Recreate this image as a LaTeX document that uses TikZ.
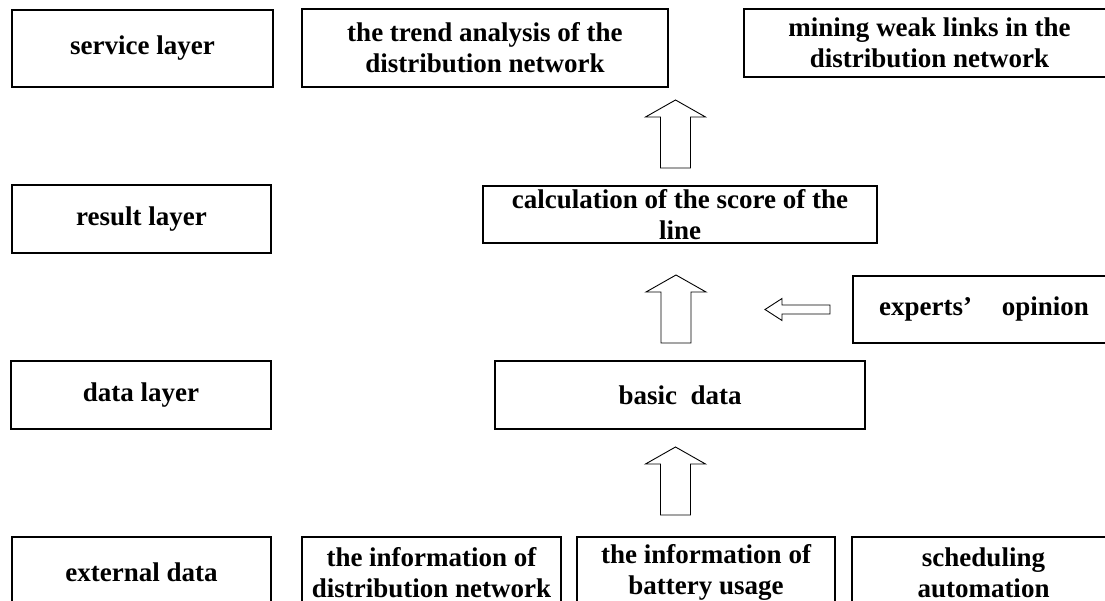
\documentclass[tikz,border=0pt]{standalone}
\usepackage{fontspec}
\setmainfont{Liberation Serif}
\begin{document}
\begin{tikzpicture}[x=1pt,y=-1pt,
  box/.style={draw, line width=1.2pt, inner sep=0pt, align=center,
    font=\fontsize{27}{31}\selectfont\bfseries},
  blockarrow/.style={draw, line width=0.9pt, fill=white, line join=miter},
  uparrow/.pic={\draw[blockarrow] (-15,0) -- (-15,-51) -- (-30,-51) -- (0,-68)
     -- (30,-51) -- (15,-51) -- (15,0) -- cycle;},
  leftarrow/.pic={\draw[blockarrow] (0,-4.5) -- (-48,-4.5) -- (-48,-11) -- (-65,0)
     -- (-48,11) -- (-48,4.5) -- (0,4.5) -- cycle;}]
\useasboundingbox (0,0) rectangle (1105,601);
\clip (0,0) rectangle (1105,601);

% service layer row
\node[box, minimum width=261pt, minimum height=77pt] (service) at (142.5,48.5) {service layer};
\node[box, minimum width=366pt, minimum height=78pt] (trend) at (485,48) {the trend analysis of the\\distribution network};
\node[box, minimum width=371pt, minimum height=68pt] (mining) at (929.5,43) {mining weak links in the\\distribution network};

% result layer row
\node[box, minimum width=259pt, minimum height=68pt] (result) at (141.5,219) {result layer};
\node[box, minimum width=394pt, minimum height=57pt] (calc) at (680,214.5) {calculation of the score of the\\line};

% experts' opinion
\node[box, minimum width=262pt, minimum height=67pt] (experts) at (984,309.5) {experts’\hspace{1.1em}opinion};

% data layer row
\node[box, minimum width=260pt, minimum height=68pt] (datalayer) at (141,395) {data layer};
\node[box, minimum width=370pt, minimum height=68pt] (basic) at (680,395) {basic\hspace{0.5em}data};

% external data row (boxes run past the lower edge)
\node[box, minimum width=259pt, minimum height=71pt] (external) at (141.5,572.5) {external data};
\node[box, minimum width=259pt, minimum height=71pt] (distinfo) at (431.5,572.5) {the information of\\distribution network};
\node[box, minimum width=258pt, minimum height=71pt] (battery) at (706,572.5) {the information of\\battery usage};
\node[box, minimum width=263pt, minimum height=71pt] (sched) at (983.5,572.5) {scheduling\\automation};

% block arrows
\pic (toservice) at (675.5,168) {uparrow};
\pic (toresult) at (676,343) {uparrow};
\pic (todata) at (675.5,515) {uparrow};
\pic (fromexperts) at (830,309.5) {leftarrow};
\end{tikzpicture}
\end{document}
